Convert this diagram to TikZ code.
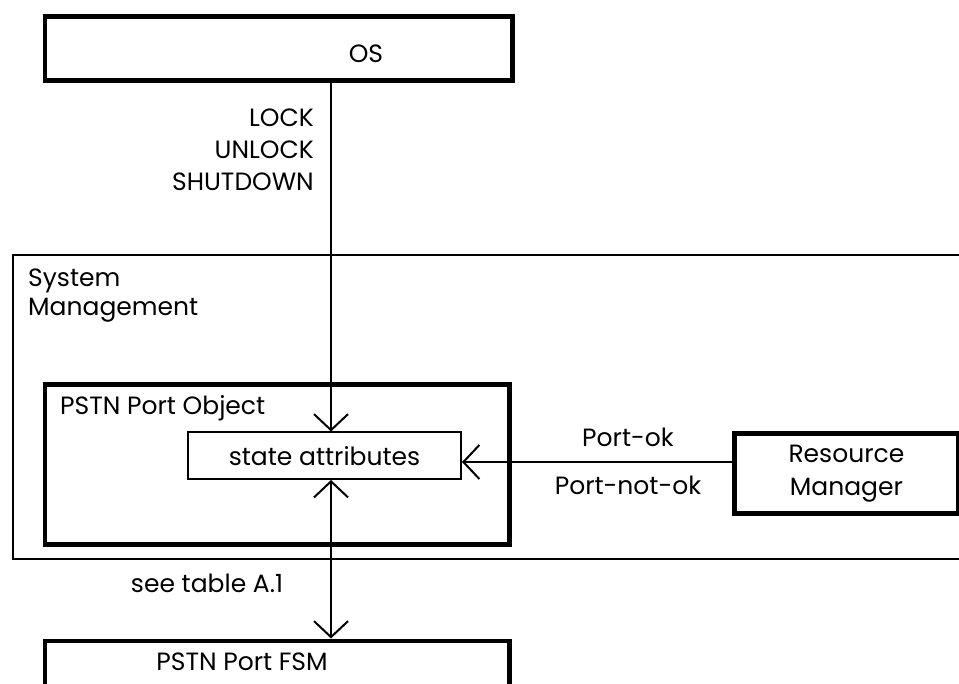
\documentclass[tikz,border=0pt]{standalone}
\usepackage{fontspec}
\setmainfont{Poppins}
\usetikzlibrary{arrows.meta}
\tikzset{
  thickbox/.style={draw=black, line width=4.8pt, rectangle, inner sep=0pt},
  thinbox/.style={draw=black, line width=2pt, rectangle, inner sep=0pt},
  conn/.style={draw=black, line width=2pt},
  barb/.tip={Straight Barb[length=16pt,width=34pt,line width=2pt]},
  lbl/.style={inner sep=0pt, font=\fontsize{25}{33}\selectfont},
}
\begin{document}
\begin{tikzpicture}[x=1pt,y=-1pt]
\useasboundingbox (0,0) rectangle (959,684);
\clip (0,0) rectangle (959,684);
\fill[white] (0,0) rectangle (959,684);
% boxes
\node[thickbox, minimum width=467.5pt, minimum height=64pt, anchor=north west] (os) at (42.5,14.5) {};
\node[thinbox, minimum width=1000pt, minimum height=304pt, anchor=north west] (sysm) at (12,254) {};
\node[thickbox, minimum width=464.5pt, minimum height=159.5pt, anchor=north west] (pso) at (42.5,382.5) {};
\node[thinbox, minimum width=273pt, minimum height=46.5pt, anchor=north west, lbl] (sa) at (187,431.5) {state attributes};
\node[thickbox, minimum width=224pt, minimum height=80pt, anchor=north west, lbl, align=center] (rm) at (732,431) {Resource\\Manager};
\node[thickbox, minimum width=464.5pt, minimum height=100pt, anchor=north west] (fsm) at (42.5,638.5) {};
% texts
\node[lbl, anchor=base] (ostxt) at (366,63) {OS};
\node[lbl, anchor=base east] (lock) at (314,127) {LOCK};
\node[lbl, anchor=base east] (unlock) at (314,159) {UNLOCK};
\node[lbl, anchor=base east] (shutdown) at (314,191) {SHUTDOWN};
\node[lbl, anchor=base west] (sys) at (28,287) {System};
\node[lbl, anchor=base west] (mgmt) at (28,316) {Management};
\node[lbl, anchor=base west] (psotxt) at (60,415) {PSTN Port Object};
\node[lbl, anchor=base] (portok) at (628,447) {Port-ok};
\node[lbl, anchor=base] (portnok) at (628,495) {Port-not-ok};
\node[lbl, anchor=base] (seetab) at (207,592) {see table A.1};
\node[lbl, anchor=base] (fsmtxt) at (242,670) {PSTN Port FSM};
% connectors
\coordinate (vx) at (331,0);
\coordinate (hy) at (0,462);
\draw[conn, -{barb}] (os.south -| vx) -- (sa.north -| vx);
\draw[conn, {barb}-{barb}] (sa.south -| vx) -- (fsm.north -| vx);
\draw[conn, -{barb}] (rm.west |- hy) -- (sa.east |- hy);
\end{tikzpicture}
\end{document}
